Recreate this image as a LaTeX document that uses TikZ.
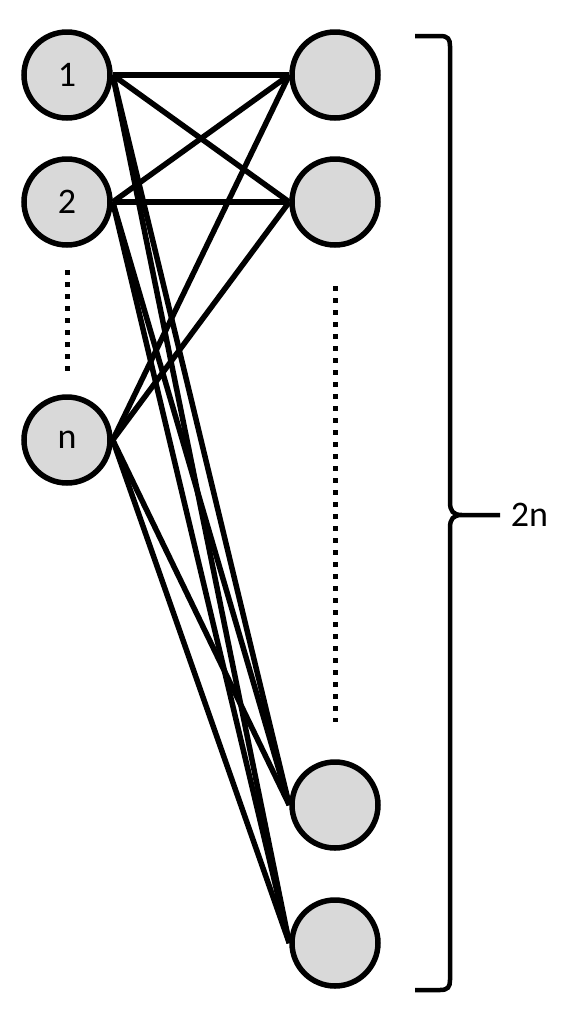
\documentclass[tikz,border=0pt]{standalone}
\usepackage{fontspec}
\setmainfont{Carlito}
\usepackage{tikz}
\usetikzlibrary{calc,positioning}
\definecolor{nodegray}{RGB}{217,217,217}

\begin{document}
\begin{tikzpicture}[x=1pt,y=-1pt,line width=5.5pt,
  vert/.style={circle,draw,fill=nodegray,minimum size=86pt,inner sep=0pt,font=\fontsize{36}{42}\selectfont},
  dots/.style={line width=5pt,dash pattern=on 5pt off 7pt}]
  \useasboundingbox (0,0) rectangle (563,1029);
  % left column
  \node[vert] (l1) at (67,75) {1};
  \node[vert] (l2) at (67,202) {2};
  \node[vert] (ln) at (67,440) {n};
  % right column
  \node[vert] (r1) at (335,75) {};
  \node[vert] (r2) at (335,202) {};
  \node[vert] (r3) at (335,805) {};
  \node[vert] (r4) at (335,943) {};
  \coordinate (dl1) at (67,270);
  \coordinate (dl2) at (67,372);
  \coordinate (dr1) at (335,286);
  \coordinate (dr2) at (335,722);
  \draw[dots] (dl1) -- (dl2);
  \draw[dots] (dr1) -- (dr2);
  \foreach \a in {l1,l2,ln}{
    \foreach \b in {r1,r2,r3,r4}{
      \draw (\a.east) -- (\b.west);
    }
  }
  % brace
  \draw[line width=4.5pt] (415,36) -- (440,36) .. controls (448,36) and (450,39) .. (450,46)
    -- (450,502) .. controls (450,511) and (453,515) .. (462,515) -- (500,515)
    (462,515) .. controls (453,515) and (450,519) .. (450,528)
    -- (450,980) .. controls (450,987) and (448,990) .. (440,990) -- (415,990);
  \coordinate (tip) at (500,515);
  \node[right=8pt of tip,inner sep=0pt,font=\fontsize{36}{42}\selectfont] (lab) {2n};
\end{tikzpicture}
\end{document}
